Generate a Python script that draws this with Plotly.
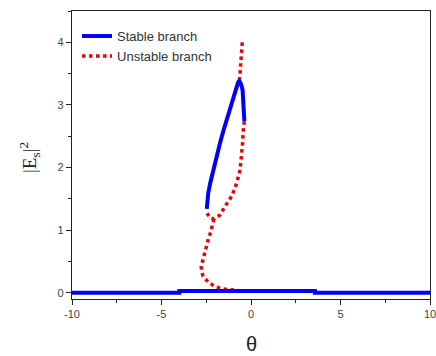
import plotly.graph_objects as go

# Stable branch (lower, nearly zero)
stable_low_theta = [-10, -4.0, -4.0, 3.57, 3.57, 10]
stable_low_E = [0.0, 0.0, 0.027, 0.027, 0.0, 0.0]

# Stable branch (upper part of the loop)
stable_up_theta = [-2.47, -2.39, -2.28, -2.11, -1.92, -1.73, -1.55, -1.36, -1.17, -0.99, -0.85, -0.72, -0.65,
                   -0.55, -0.47, -0.43, -0.40, -0.37]
stable_up_E = [1.34, 1.59, 1.75, 1.96, 2.18, 2.39, 2.58, 2.76, 2.95, 3.14, 3.27, 3.36, 3.38,
               3.33, 3.24, 2.92, 2.83, 2.74]

# Unstable branch (three pieces separated by None)
unstable_theta = [-0.49, -0.52, -0.58, -0.61, -0.65,
                  None,
                  -0.37, -0.43, -0.47, -0.52, -0.61, -0.80, -1.08, -1.45, -1.73, -2.07, -2.30, -2.45,
                  None,
                  -2.07, -2.14, -2.25, -2.38, -2.50, -2.62, -2.72, -2.78, -2.76, -2.68, -2.55, -2.35,
                  -2.05, -1.73, -1.40, -1.17, -0.71, -0.34]
unstable_E = [4.00, 3.80, 3.62, 3.51, 3.38,
              None,
              2.74, 2.60, 2.39, 2.18, 1.96, 1.75, 1.54, 1.38, 1.24, 1.18, 1.20, 1.27,
              None,
              1.18, 1.08, 0.97, 0.86, 0.74, 0.63, 0.52, 0.42, 0.34, 0.27, 0.22, 0.16,
              0.11, 0.07, 0.055, 0.045, 0.035, 0.027]

x_ticks = [-10, -5, 0, 5, 10]
x_labels = ["-10", "-5", "0", "5", "10"]
y_ticks = [0, 1, 2, 3, 4]
y_labels = ["0", "1", "2", "3", "4"]

BLUE = "#0000ff"
RED = "#ee0000"

fig = go.Figure()
fig.add_trace(go.Scatter(x=unstable_theta, y=unstable_E, mode="lines", name="Unstable branch",
                         line=dict(color=RED, width=3.5, dash="3.5px,3.5px"), connectgaps=False,
                         legendrank=2))
fig.add_trace(go.Scatter(x=stable_low_theta, y=stable_low_E, mode="lines", name="Stable branch",
                         line=dict(color=BLUE, width=4), legendrank=1))
fig.add_trace(go.Scatter(x=stable_up_theta, y=stable_up_E, mode="lines", name="Stable branch",
                         line=dict(color=BLUE, width=4), showlegend=False))

axis_common = dict(
    showgrid=False, zeroline=False, showline=True, linecolor="#222", linewidth=1.2,
    mirror=True, ticks="outside", ticklen=5, tickwidth=1, tickcolor="#222",
    ticklabeloverflow="allow", automargin=False,
    tickfont=dict(family="Liberation Sans, Arial", size=11, color="#444"),
)

fig.update_layout(
    width=436, height=356,
    margin=dict(l=72, r=6, t=11, b=57, autoexpand=False),
    paper_bgcolor="white", plot_bgcolor="white",
    showlegend=True,
    legend=dict(x=0.014, y=0.965, xanchor="left", yanchor="top", bgcolor="rgba(0,0,0,0)",
                font=dict(family="Liberation Sans, Arial", size=13, color="#333"),
                tracegroupgap=0, itemwidth=30),
    xaxis=dict(range=[-10, 10], tickvals=x_ticks, ticktext=x_labels,
               minor=dict(ticks="outside", ticklen=3, dtick=2.5, tickcolor="#222"),
               **axis_common),
    yaxis=dict(range=[-0.1, 4.5], tickvals=y_ticks, ticktext=y_labels,
               minor=dict(ticks="outside", ticklen=3, dtick=0.5, tickcolor="#222"),
               **axis_common),
    annotations=[
        dict(text="|E<sub>s</sub>|<sup>2</sup>", xref="paper", yref="paper", x=-0.117, y=0.49,
             textangle=-90, showarrow=False, xanchor="center", yanchor="middle",
             font=dict(family="Liberation Serif, Times New Roman", size=19, color="#222")),
        dict(text="θ", xref="paper", yref="paper", x=0.5, y=-0.155, showarrow=False,
             xanchor="center", yanchor="middle",
             font=dict(family="Liberation Sans, Arial", size=20, color="#222")),
    ],
)

fig.write_html("out.html", config={"displayModeBar": False},
               post_script="document.body.style.margin='0';document.body.style.padding='0';")
